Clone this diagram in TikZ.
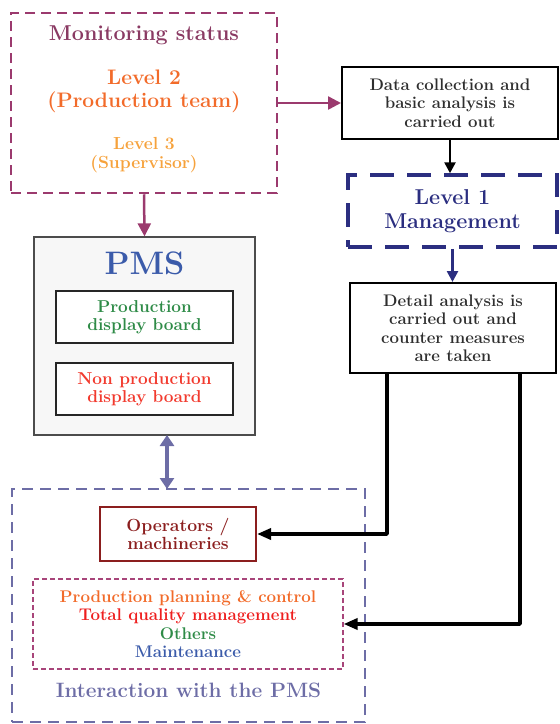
\documentclass[tikz,border=0pt]{standalone}
\usepackage{tikz}
\usetikzlibrary{arrows.meta,positioning,calc}
\definecolor{monpurple}{HTML}{9B3A6E}
\definecolor{montext}{HTML}{8A3A63}
\definecolor{lvltwo}{HTML}{F26B2A}
\definecolor{lvlthree}{HTML}{F6A23C}
\definecolor{lvlone}{HTML}{2B2E80}
\definecolor{pmsblue}{HTML}{3B5BAA}
\definecolor{prodgreen}{HTML}{2E8B47}
\definecolor{nonred}{HTML}{F23A2E}
\definecolor{tqmred}{HTML}{EE1E1E}
\definecolor{operred}{HTML}{8B1E1E}
\definecolor{slate}{HTML}{6D6DA6}
\definecolor{pinkline}{HTML}{A8457A}
\definecolor{greytext}{HTML}{2E2E2E}
\newcommand{\fsz}[2]{\fontsize{#1}{#2}\selectfont\bfseries}

\begin{document}
\begin{tikzpicture}[x=1pt,y=-1pt,>={Triangle[length=11pt,width=11pt]}]
\tikzstyle{plain box}=[rectangle,draw=black,line width=2pt,inner sep=0pt,align=center]
\tikzstyle{board box}=[rectangle,draw=black!85,line width=1.3pt,fill=white,inner sep=0pt,align=center,minimum width=177pt,minimum height=52pt]
\tikzstyle{text node}=[inner sep=0pt,align=center]

\tikzset{
	mon box/.style={rectangle,draw=monpurple,line width=2.5pt,dash pattern=on 10pt off 6pt},
	lvl box/.style={rectangle,draw=lvlone,line width=3.5pt,dash pattern=on 24pt off 13pt,inner sep=0pt,align=center},
	pms box/.style={rectangle,draw=black!70,line width=1.3pt,fill=black!3},
	big box/.style={rectangle,draw=slate,line width=2.5pt,dash pattern=on 11pt off 7pt},
	pink box/.style={rectangle,draw=pinkline,line width=1.2pt,dash pattern=on 5pt off 3pt,inner sep=0pt,align=center}
}
\useasboundingbox (0,0) rectangle (560,724);

      % monitoring status
      \node[mon box,minimum width=266pt,minimum height=180pt] (mon) at (144,103) {};
      \node[text node,text=montext,font=\fsz{21.5}{24}] (montitle) at (144,35) {Monitoring status};
      \node[text node,text=lvltwo,font=\fsz{21}{23}] (lvl2) at (144,91.5) {Level 2\\(Production team)};
      \node[text node,text=lvlthree,font=\fsz{17.5}{19}] (lvl3) at (144,155.5) {Level 3\\(Supervisor)};

      % right column
      \node[plain box,minimum width=216pt,minimum height=72pt,text=greytext,font=\fsz{16.8}{18.5}] (data) at (450,103)
          {Data collection and\\basic analysis is\\carried out};
      \node[lvl box,minimum width=209pt,minimum height=72pt,text=lvlone,font=\fsz{21.5}{24}] (lvl1) at (452.5,211)
          {Level 1\\Management};
      \node[plain box,minimum width=206pt,minimum height=90pt,text=greytext,font=\fsz{16.8}{18.5}] (detail) at (453,328)
          {Detail analysis is\\carried out and\\counter measures\\are taken};

      % PMS
      \node[pms box,minimum width=221pt,minimum height=198pt] (pms) at (144.5,336) {};
      \node[text node,text=pmsblue,font=\fsz{32.5}{34}] (pmstitle) at (144.5,263) {PMS};
      \node[board box,text=prodgreen,font=\fsz{17.2}{18.3}] (prod) at (144.5,317) {Production\\display board};
      \node[board box,text=nonred,font=\fsz{17.2}{18.3}] (nonprod) at (144.5,389) {Non production\\display board};

      % interaction with the PMS
      \node[big box,minimum width=353pt,minimum height=233pt] (inter) at (188.5,605.5) {};
      \node[rectangle,draw=operred,line width=2pt,inner sep=0pt,align=center,minimum width=156pt,minimum height=54pt,
            text=operred,font=\fsz{17.6}{18.3}] (oper) at (178,534) {Operators /\\machineries};
      \node[pink box,minimum width=310pt,minimum height=90pt,font=\fsz{16.9}{18.3}] (others) at (188,624)
          {\textcolor{lvltwo}{Production planning \& control}\\
           \textcolor{tqmred}{Total quality management}\\
           \textcolor{prodgreen}{Others}\\
           \textcolor{pmsblue}{Maintenance}};
      \node[text node,text=slate,font=\fsz{20.8}{23}] (intertitle) at (188.5,690) {Interaction with the PMS};

      \coordinate (d1) at (387,373);
      \coordinate (d2) at (520,373);
      \coordinate (p1) at (167,435);
      \coordinate (p2) at (167,489);

    \draw[->,draw=monpurple,line width=2.5pt,>={Triangle[length=13pt,width=13pt]}] (mon) -- (data);
    \draw[->,draw=monpurple,line width=2.5pt,>={Triangle[length=13pt,width=13pt]}] (mon.south) -- (pms.north);
    \draw[->,line width=2.5pt] (data.south) -- (data.south |- lvl1.north);
    \draw[->,draw=lvlone,line width=2.5pt] (lvl1.south) -- (lvl1.south |- detail.north);
    \draw[<->,draw=slate,line width=3.5pt,>={Triangle[length=11pt,width=14pt]}] (p1) -- (p2);
    \draw[->,line width=3.4pt,line join=round,>={Triangle[length=14pt,width=11pt]}] (d1) |- (oper.east);
    \draw[->,line width=3.4pt,line join=round,>={Triangle[length=14pt,width=11pt]}] (d2) |- (others.east);
\end{tikzpicture}
\end{document}
